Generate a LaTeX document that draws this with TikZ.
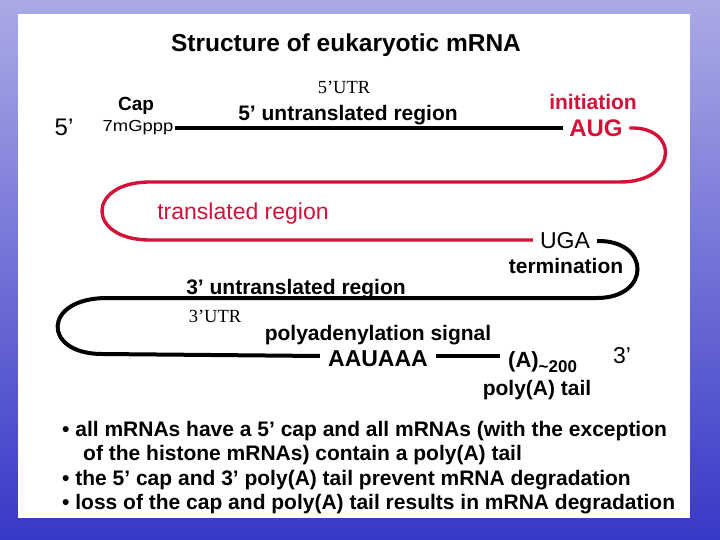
\documentclass[tikz,border=0pt]{standalone}
\usepackage{fontspec}
\setmainfont{Liberation Sans}
\newfontfamily\serifface{Liberation Serif}
\definecolor{mred}{RGB}{210,18,56}
\definecolor{bgtop}{RGB}{170,170,230}
\definecolor{bgbot}{RGB}{56,56,200}
\tikzset{
  lbl/.style={inner xsep=3pt, inner ysep=0pt, anchor=base},
  bl/.style={lbl, font=\bfseries\fontsize{21}{25}\selectfont},
  rg/.style={lbl, font=\fontsize{23}{27}\selectfont},
  sf/.style={lbl, font=\serifface\fontsize{18.5}{22}\selectfont},
  blackline/.style={line width=4pt, black},
  redline/.style={line width=3.4pt, mred},
  bullet/.style={anchor=base west, inner sep=0pt, font=\bfseries\fontsize{21}{25}\selectfont}
}
\begin{document}
\begin{tikzpicture}[x=1pt,y=-1pt]
\shade[top color=bgtop,bottom color=bgbot] (0,0) rectangle (720,540);
\fill[white] (18,14) rectangle (690,518);
\useasboundingbox (0,0) rectangle (720,540);

\node[lbl, font=\bfseries\fontsize{24.5}{28}\selectfont] (title) at (346,52) {Structure of eukaryotic mRNA};

\node[lbl, font=\fontsize{24}{28}\selectfont] (five) at (64,136) {5’};
\node[lbl, font=\bfseries\fontsize{19}{23}\selectfont] (cap) at (136,111) {Cap};
\node[lbl, font=\fontsize{16}{19}\selectfont, inner xsep=1.5pt] (gppp) at (138,132) {\scalebox{1.15}[1]{7mGppp}};
\node[sf] (utr5) at (344,94) {5’UTR};
\node[bl] (u5) at (348,121) {5’ untranslated region};
\node[bl, text=mred] (init) at (593,110) {initiation};
\node[lbl, text=mred, font=\bfseries\fontsize{24}{28}\selectfont, inner xsep=6.5pt] (aug) at (596,137) {AUG};

\node[rg, text=mred] (tr) at (243,219) {translated region};
\node[rg, inner xsep=7pt] (uga) at (565,248) {UGA};
\node[bl] (term) at (566,273) {termination};

\node[bl] (u3) at (296,294) {3’ untranslated region};
\node[sf] (utr3) at (215,322) {3’UTR};
\node[bl] (pas) at (378,340) {polyadenylation signal};
\node[lbl, font=\bfseries\fontsize{23}{27}\selectfont, inner xsep=8pt] (aauaaa) at (378,366) {AAUAAA};
\node[lbl, font=\bfseries\fontsize{22}{26}\selectfont, anchor=base west, inner xsep=8pt] (polya) at (500,367) {(A)\raisebox{-5pt}{\fontsize{17}{19}\selectfont\char"7E 200}};
\node[lbl, font=\fontsize{23}{27}\selectfont] (three) at (622,363) {3’};
\node[bl] (tail) at (537,395) {poly(A) tail};

\node[bullet] (b1) at (62,436) {• all mRNAs have a 5’ cap and all mRNAs (with the exception};
\node[bullet] (b2) at (83,460) {of the histone mRNAs) contain a poly(A) tail};
\node[bullet] (b3) at (62,485) {• the 5’ cap and 3’ poly(A) tail prevent mRNA degradation};
\node[bullet] (b4) at (62,509) {• loss of the cap and poly(A) tail results in mRNA degradation};

\coordinate (r1) at (620,182);
\coordinate (r2) at (150,182);
\coordinate (r3) at (150,240);
\coordinate (k1) at (597,298);
\coordinate (k2) at (107,298);
\coordinate (k3) at (102,354);

\draw[blackline] (gppp.east |- 0,128) -- (aug.west |- 0,128);
\draw[redline] (aug.east |- 0,128) .. controls (679,126) and (679,182) .. (r1) -- (r2)
   .. controls (86,182) and (86,240) .. (r3) -- (uga.west |- 0,240);
\draw[blackline] (uga.east |- 0,241) .. controls (651,240) and (651,298) .. (k1) -- (k2)
   .. controls (42,298) and (42,354) .. (k3) -- (aauaaa.west |- 0,356);
\draw[blackline] (aauaaa.east |- 0,356) -- (polya.west |- 0,356);
\end{tikzpicture}
\end{document}
